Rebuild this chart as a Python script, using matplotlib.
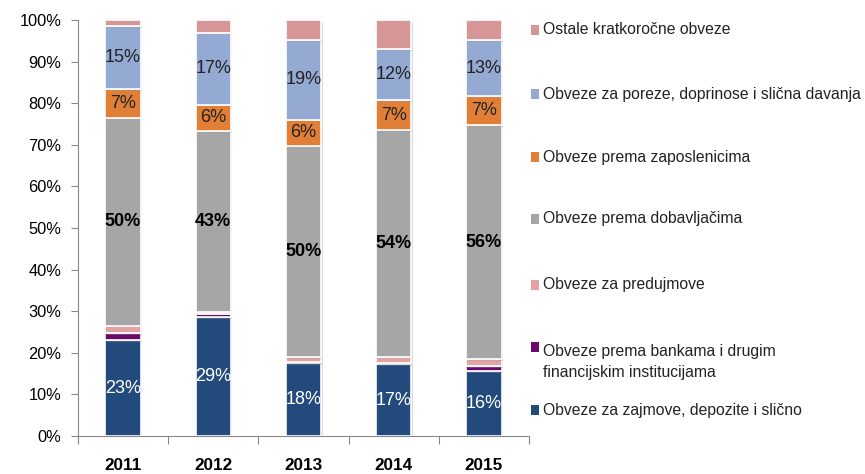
import numpy as np
import matplotlib
matplotlib.use('Agg')
import matplotlib.pyplot as plt
from matplotlib.patches import Rectangle
import matplotlib.patheffects as pe

plt.rcParams['font.family'] = ['Liberation Sans', 'DejaVu Sans']

# data (shares in %)
years = ['2011', '2012', '2013', '2014', '2015']
zajmove = [23.0, 28.6, 17.6, 17.3, 15.6]
banke = [1.7, 0.8, 0.2, 0.3, 1.2]
predujmovi = [1.8, 0.5, 1.2, 1.5, 1.7]
dobavljaci = [50.0, 43.4, 50.8, 54.4, 56.2]
zaposlenici = [6.8, 6.3, 6.2, 7.2, 7.0]
porezi = [15.2, 17.3, 19.2, 12.3, 13.4]
ostale = [1.5, 3.1, 4.8, 7.0, 4.9]

lab_zajmove = ['23%', '29%', '18%', '17%', '16%']
lab_dobavljaci = ['50%', '43%', '50%', '54%', '56%']
lab_zaposlenici = ['7%', '6%', '6%', '7%', '7%']
lab_porezi = ['15%', '17%', '19%', '12%', '13%']

names = ['Obveze za zajmove, depozite i slično',
         'Obveze prema bankama i drugim\nfinancijskim institucijama',
         'Obveze za predujmove',
         'Obveze prema dobavljačima',
         'Obveze prema zaposlenicima',
         'Obveze za poreze, doprinose i slična davanja',
         'Ostale kratkoročne obveze']
colors = ['#234a7c', '#6a0a6a', '#e3a3a3', '#a6a6a6', '#e07f35', '#94aad3', '#d69596']

series = [zajmove, banke, predujmovi, dobavljaci, zaposlenici, porezi, ostale]
labels = [(lab_zajmove, 'white', 'normal'), None, None,
          (lab_dobavljaci, 'black', 'bold'),
          (lab_zaposlenici, '#222222', 'normal'),
          (lab_porezi, '#222222', 'normal'), None]

fig = plt.figure(figsize=(8.65, 4.74), dpi=100)
ax = fig.add_axes([0.090, 0.080, 0.5216, 0.878])

x = np.arange(len(years))
bottom = np.zeros(len(years))
shadow = [pe.SimplePatchShadow(offset=(1.2, -1.2), shadow_rgbFace='#999999', alpha=0.35), pe.Normal()]
for vals, col, lab in zip(series, colors, labels):
    vals = np.array(vals)
    bars = ax.bar(x, vals, 0.39, bottom=bottom, color=col, edgecolor='white',
                  linewidth=1.2, zorder=3)
    for b in bars:
        b.set_path_effects(shadow)
    if lab is not None:
        txt, tc, fw = lab
        for xi, yb, v, t in zip(x, bottom, vals, txt):
            ax.text(xi, yb + v / 2, t, ha='center', va='center', color=tc,
                    fontweight=fw, fontsize=13, zorder=5)
    bottom = bottom + vals

ax.set_xlim(-0.5, 4.5)
ax.set_ylim(0, 100)
ax.set_yticks(np.arange(0, 101, 10))
ax.set_yticklabels([f'{v}%' for v in range(0, 101, 10)], fontsize=11.8)
ax.set_xticks(np.arange(-0.5, 5, 1))
ax.set_xticklabels([])
ax.set_xticks(x, minor=True)
ax.set_xticklabels(years, minor=True, fontsize=12.3, fontweight='bold')
ax.tick_params(axis='x', which='minor', length=0, pad=16)
ax.tick_params(axis='x', which='major', length=6, direction='out', color='#888888')
ax.tick_params(axis='y', length=5, color='#888888', pad=7)
for s in ['top', 'right']:
    ax.spines[s].set_visible(False)
for s in ['left', 'bottom']:
    ax.spines[s].set_color('#888888')

# legend drawn by hand
leg_y = [30, 94, 157, 219, 285, 362, 410][::-1]
for name, col, yp in zip(names, colors, leg_y):
    yf = 1 - yp / 474
    if '\n' in name:
        sq_y = 1 - 347 / 474
    else:
        sq_y = yf
    fig.patches.append(Rectangle((531 / 865, sq_y - 0.011), 8 / 865, 0.021,
                                 transform=fig.transFigure, facecolor=col,
                                 edgecolor='none'))
    fig.text(543 / 865, yf, name, ha='left', va='center', fontsize=11.3,
             color='#222222', linespacing=1.5)

fig.savefig('out.png', dpi=100)
